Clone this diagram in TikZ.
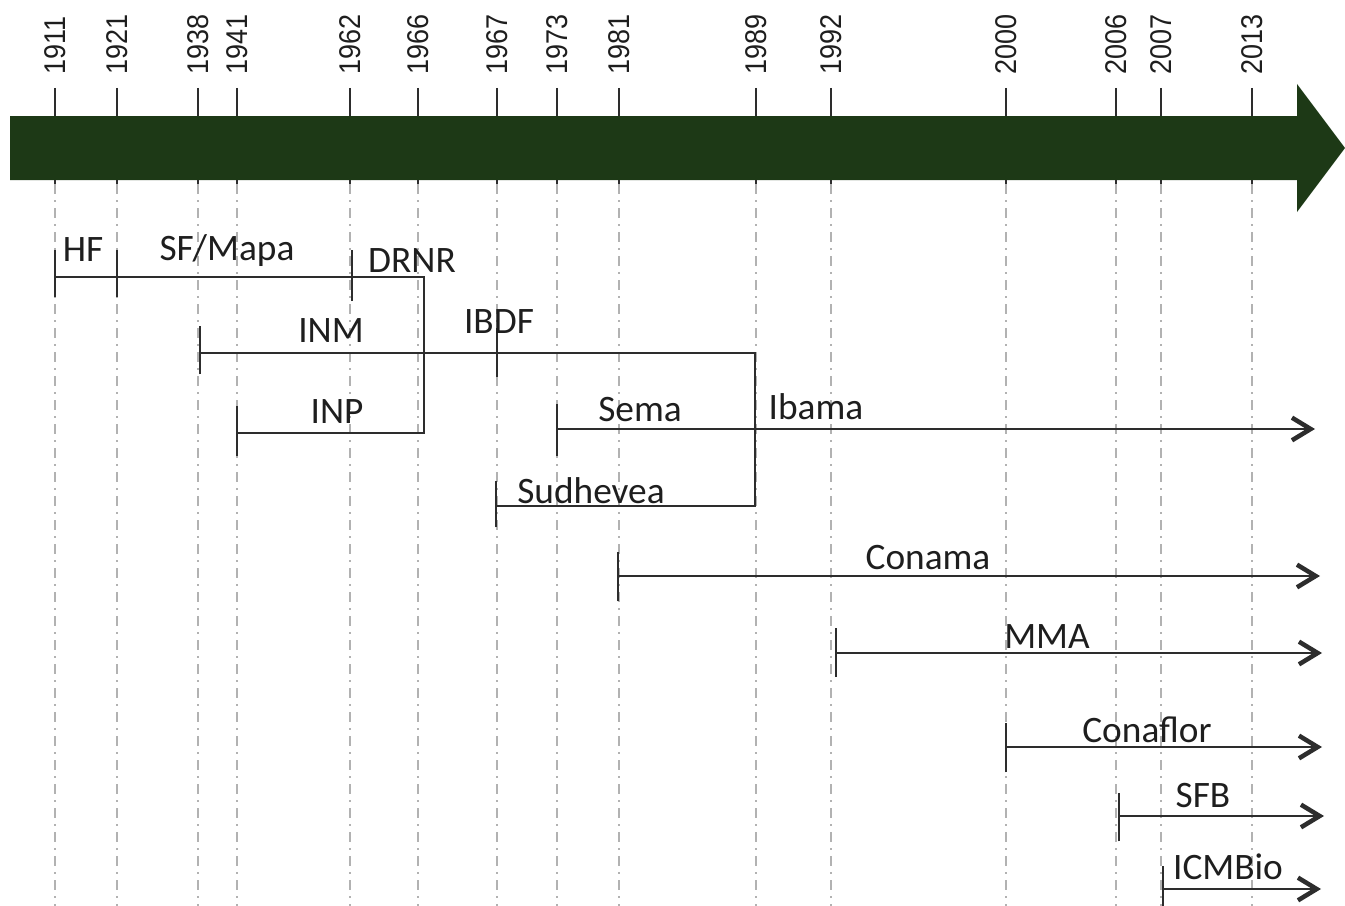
\documentclass[tikz,border=0pt]{standalone}
\usepackage{fontspec}
\setmainfont{Carlito}
\newfontfamily\yearfont{Liberation Sans}
\usetikzlibrary{arrows.meta}
\definecolor{bargreen}{RGB}{29,57,22}
\definecolor{linegray}{RGB}{45,45,45}
\definecolor{gridgray}{RGB}{178,178,178}
\definecolor{txtcol}{RGB}{30,30,30}
\begin{document}
\begin{tikzpicture}[x=0.75pt,y=-0.75pt,
  yearlbl/.style={font=\yearfont\fontsize{22.5}{22.5}\selectfont, rotate=90, anchor=west, inner sep=0pt, text=txtcol},
  yeartick/.style={draw=linegray, line width=1.4pt},
  gridline/.style={draw=gridgray, line width=1pt, dash pattern=on 7.5pt off 4.5pt on 1.5pt off 4.5pt},
  lbl/.style={font=\fontsize{28}{28}\selectfont, anchor=base, inner sep=0pt, text=txtcol},
  inst/.style={draw=linegray, line width=1.8pt},
  instarrow/.style={inst, -{Straight Barb[length=14pt,width=17pt,line width=3.4pt]}},
  itick/.style={draw=linegray, line width=1.6pt}
]
\useasboundingbox (0,0) rectangle (1345,906);
% timeline bar
\fill[bargreen] (10,116) -- (1297,116) -- (1297,84) -- (1345,148) -- (1297,212) -- (1297,180) -- (10,180) -- cycle;
% years
\foreach \x/\yr in {55/1911,117/1921,198/1938,237/1941,350/1962,418/1966,497/1967,557/1973,619/1981,756/1989,831/1992,1006/2000,1116/2006,1161/2007,1252/2013} {
  \node[yearlbl] (yr\yr) at (\x,75) {\scalebox{0.9}[1]{\yr}};
  \coordinate (tka\yr) at (\x,88);
  \coordinate (tkb\yr) at (\x,116);
  \coordinate (gda\yr) at (\x,180);
  \coordinate (gdb\yr) at (\x,184);
  \coordinate (gdc\yr) at (\x,906);
  \draw[yeartick] (tka\yr) -- (tkb\yr);
  \draw[yeartick] (gda\yr) -- (gdb\yr);
  \draw[gridline] (gdb\yr) -- (gdc\yr);
}
% coordinates of institution lines
\coordinate (hfS) at (55,277);
\coordinate (sfS) at (117,277);
\coordinate (drS) at (352,277);
\coordinate (drE) at (424,277);
\coordinate (drB) at (424,433);
\coordinate (inpS) at (237,433);
\coordinate (inmS) at (200,353);
\coordinate (ibS) at (497,353);
\coordinate (ibE) at (755,353);
\coordinate (ibB) at (755,506);
\coordinate (suS) at (496,506);
\coordinate (seS) at (557,429);
\coordinate (seE) at (1315,429);
\coordinate (coS) at (618,576);
\coordinate (coE) at (1320,576);
\coordinate (mmS) at (836,653);
\coordinate (mmE) at (1322,653);
\coordinate (cfS) at (1006,747);
\coordinate (cfE) at (1322,747);
\coordinate (sbS) at (1119,816);
\coordinate (sbE) at (1324,816);
\coordinate (icS) at (1163,889);
\coordinate (icE) at (1321,889);
% lines
\draw[inst] (hfS) -- (drE) -- (drB) -- (inpS);
\draw[inst] (inmS) -- (ibE) -- (ibB) -- (suS);
\draw[instarrow] (seS) -- (seE);
\draw[instarrow] (coS) -- (coE);
\draw[instarrow] (mmS) -- (mmE);
\draw[instarrow] (cfS) -- (cfE);
\draw[instarrow] (sbS) -- (sbE);
\draw[instarrow] (icS) -- (icE);
% start ticks
\draw[itick] ([yshift=-15]hfS) -- ([yshift=20]hfS);
\draw[itick] ([yshift=-15]sfS) -- ([yshift=20]sfS);
\draw[itick] ([yshift=-18]drS) -- ([yshift=20]drS);
\draw[itick] ([yshift=-16]inmS) -- ([yshift=20]inmS);
\draw[itick] ([yshift=-18]ibS) -- ([yshift=19]ibS);
\draw[itick] ([yshift=-17]inpS) -- ([yshift=20]inpS);
\draw[itick] ([yshift=-20]seS) -- ([yshift=19]seS);
\draw[itick] ([yshift=-16]suS) -- ([yshift=19]suS);
\draw[itick] ([yshift=-19]coS) -- ([yshift=18]coS);
\draw[itick] ([yshift=-18]mmS) -- ([yshift=19]mmS);
\draw[itick] ([yshift=-19]cfS) -- ([yshift=18]cfS);
\draw[itick] ([yshift=-19]sbS) -- ([yshift=17]sbS);
\draw[itick] ([yshift=-19]icS) -- ([yshift=17]icS);
% labels
\node[lbl] (lHF) at (83,261) {HF};
\node[lbl] (lSF) at (227,260) {SF/Mapa};
\node[lbl] (lDR) at (412,272) {DRNR};
\node[lbl] (lINM) at (331,342) {INM};
\node[lbl] (lIB) at (499,333) {IBDF};
\node[lbl] (lINP) at (337,423) {INP};
\node[lbl] (lSe) at (640,421) {Sema};
\node[lbl] (lIba) at (816,419) {Ibama};
\node[lbl] (lSu) at (591,503) {Sudhevea};
\node[lbl] (lCo) at (928,569) {Conama};
\node[lbl] (lMM) at (1047,648) {MMA};
\node[lbl] (lCf) at (1147,742) {Conaflor};
\node[lbl] (lSB) at (1203,807) {SFB};
\node[lbl] (lIC) at (1228,879) {ICMBio};
\end{tikzpicture}
\end{document}
